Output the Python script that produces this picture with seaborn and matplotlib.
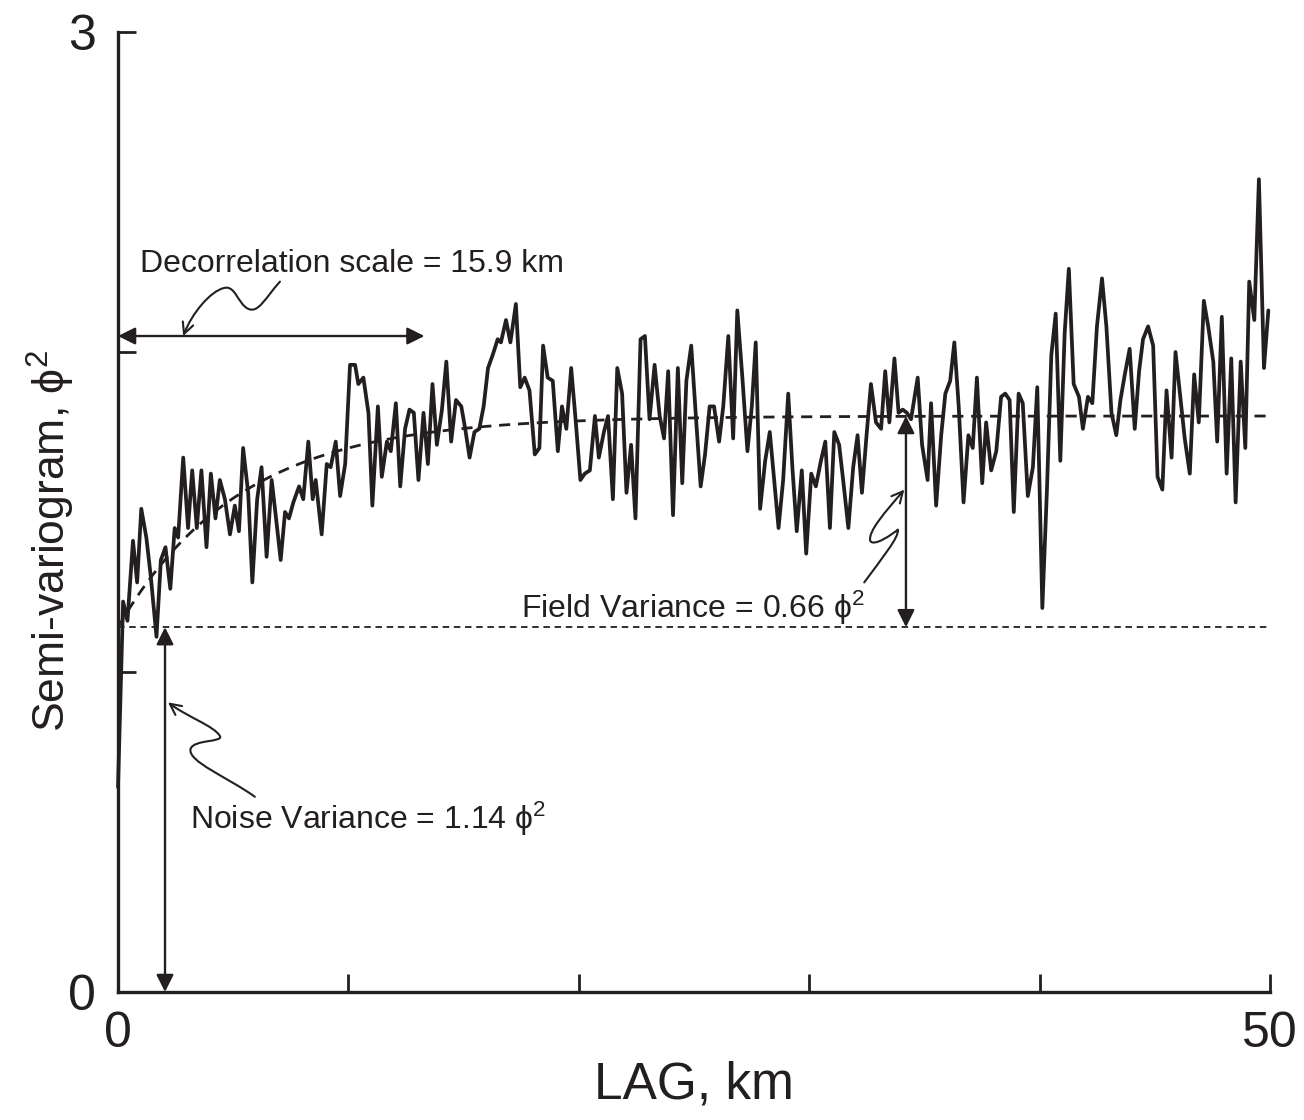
import numpy as np
import matplotlib
matplotlib.use("Agg")
import matplotlib.pyplot as plt
from matplotlib.path import Path
from matplotlib.patches import FancyArrowPatch
import seaborn as sns

# Experimental semi-variogram (lag in km, semi-variance in phi^2)
lag_km = [
    0.00, 0.22, 0.41, 0.65, 0.83, 1.01, 1.23, 1.42, 1.67, 1.86, 2.06, 2.27, 2.46, 2.61,
    2.83, 3.04, 3.22, 3.42, 3.62, 3.84, 4.03, 4.23, 4.42, 4.64, 4.86, 5.07, 5.25, 5.43,
    5.65, 5.83, 6.04, 6.23, 6.45, 6.67, 6.86, 7.06, 7.25, 7.42, 7.61, 7.86, 8.04, 8.26,
    8.45, 8.58, 8.84, 9.06, 9.23, 9.45, 9.64, 9.86, 10.07, 10.29, 10.43, 10.65, 10.87,
    11.04, 11.28, 11.45, 11.67, 11.84, 12.06, 12.25, 12.46, 12.65, 12.84, 13.04, 13.26,
    13.45, 13.65, 13.84, 14.06, 14.25, 14.46, 14.67, 14.90, 15.07, 15.26, 15.47, 15.68,
    15.87, 16.06, 16.26, 16.48, 16.62, 16.84, 17.03, 17.27, 17.46, 17.65, 17.86, 18.09,
    18.29, 18.45, 18.65, 18.87, 19.09, 19.27, 19.46, 19.67, 19.86, 20.07, 20.26, 20.48,
    20.70, 20.87, 21.09, 21.27, 21.48, 21.67, 21.88, 22.07, 22.27, 22.46, 22.68, 22.87,
    23.07, 23.29, 23.51, 23.70, 23.88, 24.09, 24.30, 24.49, 24.67, 24.88, 25.10, 25.29,
    25.48, 25.68, 25.87, 26.09, 26.27, 26.49, 26.70, 26.88, 27.10, 27.32, 27.51, 27.68,
    27.87, 28.09, 28.29, 28.48, 28.67, 28.87, 29.09, 29.27, 29.46, 29.68, 29.87, 30.09,
    30.29, 30.51, 30.70, 30.90, 31.09, 31.30, 31.49, 31.70, 31.91, 32.10, 32.29, 32.49,
    32.68, 32.90, 33.12, 33.30, 33.48, 33.70, 33.88, 34.06, 34.24, 34.42, 34.71, 34.90,
    35.14, 35.29, 35.51, 35.73, 35.91, 36.12, 36.30, 36.49, 36.70, 36.91, 37.10, 37.28,
    37.51, 37.68, 37.90, 38.12, 38.33, 38.51, 38.70, 38.88, 39.09, 39.27, 39.49, 39.71,
    39.90, 40.12, 40.32, 40.51, 40.70, 40.90, 41.09, 41.27, 41.48, 41.71, 41.88, 42.10,
    42.29, 42.49, 42.71, 42.90, 43.12, 43.33, 43.51, 43.70, 43.91, 44.13, 44.32, 44.49,
    44.71, 44.93, 45.12, 45.33, 45.51, 45.73, 45.90, 46.12, 46.30, 46.52, 46.71, 46.91,
    47.13, 47.32, 47.54, 47.71, 47.91, 48.12, 48.32, 48.51, 48.73, 48.93, 49.10, 49.32,
    49.52, 49.74, 49.93,
]
semivariance = [
    0.64, 1.22, 1.16, 1.41, 1.28, 1.51, 1.42, 1.30, 1.11, 1.35, 1.39, 1.26, 1.45, 1.42,
    1.67, 1.45, 1.63, 1.45, 1.63, 1.39, 1.62, 1.48, 1.60, 1.54, 1.43, 1.52, 1.44, 1.70,
    1.56, 1.28, 1.54, 1.64, 1.36, 1.60, 1.48, 1.35, 1.50, 1.48, 1.53, 1.58, 1.54, 1.72,
    1.54, 1.60, 1.43, 1.65, 1.64, 1.72, 1.55, 1.65, 1.96, 1.96, 1.90, 1.92, 1.81,
    1.52, 1.83, 1.61, 1.72, 1.69, 1.84, 1.58, 1.76, 1.82, 1.81, 1.60, 1.81,
    1.65, 1.90, 1.71, 1.82, 1.97, 1.72, 1.85, 1.83, 1.76, 1.67, 1.75, 1.76,
    1.83, 1.95, 1.99, 2.04, 2.03, 2.10, 2.03, 2.15, 1.89, 1.92, 1.88, 1.68,
    1.70, 2.02, 1.92, 1.91, 1.69, 1.83, 1.76, 1.95, 1.79, 1.60, 1.62, 1.63,
    1.80, 1.67, 1.75, 1.80, 1.54, 1.95, 1.87, 1.56, 1.71, 1.48, 2.04, 2.05,
    1.79, 1.96, 1.80, 1.73, 1.94, 1.49, 1.95, 1.59, 1.91, 2.02, 1.78, 1.58,
    1.68, 1.83, 1.83, 1.72, 1.83, 2.05, 1.73, 2.13, 1.92, 1.69, 1.83, 2.03,
    1.51, 1.66, 1.75, 1.60, 1.45, 1.60, 1.87, 1.64, 1.44, 1.63, 1.37, 1.62,
    1.58, 1.66, 1.72, 1.45, 1.75, 1.71, 1.59, 1.45, 1.64, 1.74, 1.56, 1.74,
    1.90, 1.78, 1.76, 1.94, 1.78, 1.98, 1.81, 1.82, 1.81, 1.79, 1.92, 1.71,
    1.60, 1.84, 1.52, 1.74, 1.87, 1.91, 2.03, 1.83, 1.53, 1.74, 1.70, 1.92,
    1.59, 1.78, 1.63, 1.69, 1.86, 1.87, 1.85, 1.50, 1.87, 1.84, 1.55, 1.64,
    1.89, 1.20, 1.57, 1.99, 2.12, 1.66, 2.06, 2.26, 1.90, 1.86, 1.76, 1.86,
    1.84, 2.08, 2.23, 2.08, 1.81, 1.74, 1.85, 1.93, 2.01, 1.76, 1.94, 2.04,
    2.08, 2.02, 1.61, 1.57, 1.88, 1.67, 2.00, 1.85, 1.73, 1.62, 1.93, 1.78,
    2.16, 2.08, 1.97, 1.72, 2.11, 1.62, 1.98, 1.53, 1.97, 1.70, 2.22, 2.10,
    2.54, 1.95, 2.13,
]

# Fitted exponential model parameters
noise_variance = 1.14      # nugget
field_variance = 0.66      # partial sill
decorrelation_km = 15.9    # practical range

x_ticks = [0, 10, 20, 30, 40, 50]
x_tick_labels = ["0", "", "", "", "", "50"]
y_ticks = [0, 1, 2, 3]
y_tick_labels = ["0", "", "", "3"]

ink = "#231f20"

sns.set_theme(style="ticks")
plt.rcParams["font.family"] = ["Liberation Sans", "DejaVu Sans"]
plt.rcParams["mathtext.fontset"] = "custom"
plt.rcParams["mathtext.rm"] = "Liberation Sans"
plt.rcParams["mathtext.it"] = "Liberation Sans"

fig = plt.figure(figsize=(13.04, 11.2), dpi=100)
ax = fig.add_axes([0.0905, 0.1143, 0.8834, 0.8571])

sns.lineplot(x=lag_km, y=semivariance, ax=ax, color=ink, lw=2.7,
             estimator=None, sort=False, clip_on=False)

# model curve
h = np.linspace(0, 50, 400)
model = noise_variance + field_variance * (1 - np.exp(-3 * h / decorrelation_km))
ax.plot(h, model, color=ink, lw=2.0, dashes=(4.0, 2.8))

# noise level
ax.plot([0, 50], [noise_variance, noise_variance], color=ink, lw=1.3, dashes=(3.6, 2.6))

ax.set_xlim(0, 50)
ax.set_ylim(0, 3)
ax.set_xticks(x_ticks)
ax.set_xticklabels(x_tick_labels)
ax.set_yticks(y_ticks)
ax.set_yticklabels(y_tick_labels)
ax.tick_params(direction="in", length=13, width=2, color=ink, labelsize=36,
               labelcolor=ink)
ax.tick_params(axis="x", pad=14)
ax.tick_params(axis="y", pad=16)
for side in ("left", "bottom"):
    ax.spines[side].set_linewidth(2.4)
    ax.spines[side].set_color(ink)
sns.despine(ax=ax)

ax.set_xlabel("LAG, km", fontsize=37, color=ink, labelpad=2)
ax.set_ylabel("Semi-variogram, \u03d5$^{2}$", fontsize=32, color=ink)
ax.yaxis.set_label_coords(-0.036, 0.47)

# double-headed arrows
arrow_kw = dict(arrowstyle="<|-|>", mutation_scale=26, lw=1.7, color=ink,
                shrinkA=0, shrinkB=0)
sill = noise_variance + field_variance
ax.annotate("", xy=(0.0, 2.05), xytext=(13.3, 2.05), arrowprops=arrow_kw)
ax.annotate("", xy=(2.04, 0.0), xytext=(2.04, noise_variance), arrowprops=arrow_kw)
ax.annotate("", xy=(34.2, noise_variance), xytext=(34.2, sill), arrowprops=arrow_kw)

# labels
txt_kw = dict(fontsize=23, color=ink, va="baseline", ha="left")
ax.text(0.95, 2.25, "Decorrelation scale = 15.9 km", **txt_kw)
ax.text(17.5, 1.17, "Field Variance = 0.66 \u03d5$^{2}$", **txt_kw)
ax.text(3.12, 0.51, "Noise Variance = 1.14 \u03d5$^{2}$", **txt_kw)

# wavy leader lines
C4 = Path.CURVE4
leaders = [
    [(7.03, 2.22), (6.4, 2.17), (6.1, 2.12), (5.65, 2.135),
     (5.2, 2.15), (5.1, 2.21), (4.6, 2.20),
     (4.0, 2.19), (3.2, 2.12), (2.83, 2.05)],
    [(5.94, 0.61), (4.8, 0.67), (3.0, 0.72), (3.15, 0.76),
     (3.3, 0.79), (4.6, 0.78), (4.42, 0.80),
     (4.2, 0.83), (3.0, 0.86), (2.17, 0.905)],
    [(32.39, 1.28), (33.2, 1.36), (33.9, 1.42), (33.85, 1.445),
     (33.6, 1.43), (32.8, 1.39), (32.65, 1.41),
     (32.55, 1.44), (33.3, 1.50), (34.13, 1.57)],
]
for verts in leaders:
    codes = [Path.MOVETO] + [C4] * (len(verts) - 1)
    patch = FancyArrowPatch(path=Path(verts, codes), arrowstyle="->",
                            mutation_scale=20, lw=1.5, color=ink,
                            transform=ax.transData)
    ax.add_patch(patch)

fig.savefig("out.png", dpi=100)
